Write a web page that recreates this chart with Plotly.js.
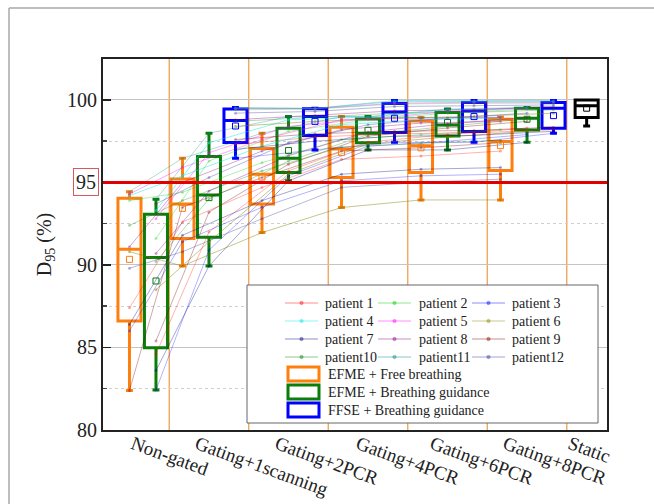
<!DOCTYPE html>
<html><head><meta charset="utf-8">
<script src="https://cdn.plot.ly/plotly-3.0.1.min.js"></script>
<style>html,body{margin:0;padding:0;background:#fff}</style>
</head><body><div id="chart" style="width:654px;height:504px"></div>
<script>
// ---------------- DATA ----------------
const categories = ['Non-gated','Gating+1scanning','Gating+2PCR','Gating+4PCR','Gating+6PCR','Gating+8PCR','Static'];
const patientNames = ['patient 1','patient 2','patient 3','patient 4','patient 5','patient 6','patient 7','patient 8','patient 9','patient10','patient11','patient12'];
const protocolNames = ['EFME + Free breathing','EFME + Breathing guidance','FFSE + Breathing guidance'];
const threshold = 95;
const yTickVals = [80, 85, 90, 95, 100];
const yTickText = ['80', '85', '90', '', '100'];

// EFME + Free breathing (categories 0..5)
const efmeFreeLower  = [82.40, 89.94, 91.96, 93.48, 93.94, 93.94];
const efmeFreeQ1     = [86.60, 91.60, 93.70, 95.30, 95.60, 95.72];
const efmeFreeMedian = [90.95, 93.70, 95.50, 97.02, 97.23, 97.48];
const efmeFreeQ3     = [94.04, 95.21, 97.05, 98.34, 98.73, 98.83];
const efmeFreeUpper  = [94.44, 96.46, 97.98, 98.99, 98.93, 98.95];
const efmeFreeMean   = [90.34, 93.43, 95.33, 96.82, 97.10, 97.23];

// EFME + Breathing guidance (categories 0..5)
const efmeGuideLower  = [82.42, 89.94, 95.10, 96.97, 96.97, 97.43];
const efmeGuideQ1     = [84.99, 91.68, 95.60, 97.40, 97.82, 98.18];
const efmeGuideMedian = [90.45, 94.24, 96.46, 97.98, 98.48, 98.89];
const efmeGuideQ3     = [93.07, 96.57, 98.28, 98.84, 99.24, 99.49];
const efmeGuideUpper  = [93.98, 97.98, 98.99, 98.99, 99.45, 99.54];
const efmeGuideMean   = [89.03, 94.08, 96.93, 98.16, 98.63, 98.83];

// FFSE + Breathing guidance (categories 1..5)
const ffseGuideLower  = [96.46, 96.97, 97.43, 97.43, 97.98];
const ffseGuideQ1     = [97.42, 97.85, 98.03, 98.08, 98.28];
const ffseGuideMedian = [98.75, 99.00, 99.27, 99.33, 99.49];
const ffseGuideQ3     = [99.45, 99.47, 99.78, 99.84, 99.84];
const ffseGuideUpper  = [99.54, 99.49, 99.96, 99.96, 99.96];
const ffseGuideMean   = [98.42, 98.70, 98.89, 98.99, 99.05];

// Static (category 6)
const staticLower = [98.42];
const staticQ1 = [98.94];
const staticMedian = [99.64];
const staticQ3 = [100.0];
const staticUpper = [100.0];
const staticMean = [99.50];

// per-patient D95 values, EFME + Free breathing (categories 0..5)
const efmeFreePatients = [
  [87.4, 92.6, 94.7, 96.4, 96.6, 96.9],
  [93.9, 94.4, 96.2, 97.6, 97.9, 98.2],
  [86.0, 91.4, 93.5, 95.1, 95.4, 95.5],
  [94.2, 95.4, 97.2, 98.5, 98.8, 98.9],
  [94.3, 95.9, 97.6, 98.8, 98.9, 98.93],
  [90.8, 89.94, 91.96, 93.48, 93.94, 93.94],
  [86.4, 91.8, 93.9, 95.5, 95.8, 95.9],
  [91.1, 95.0, 96.9, 98.2, 98.6, 98.7],
  [82.4, 93.5, 95.3, 96.9, 97.1, 97.4],
  [92.4, 93.9, 95.7, 97.14, 97.36, 97.56],
  [94.44, 96.46, 97.98, 98.99, 98.93, 98.95],
  [89.8, 90.8, 92.8, 94.7, 95.0, 95.2]
];
// per-patient D95 values, EFME + Breathing guidance (categories 0..5)
const efmeGuidePatients = [
  [84.6, 92.0, 95.7, 97.45, 97.9, 98.3],
  [91.6, 96.3, 98.1, 98.8, 99.2, 99.45],
  [82.42, 90.9, 95.4, 97.2, 97.5, 97.9],
  [93.3, 97.4, 98.8, 98.95, 99.4, 99.52],
  [92.8, 96.8, 98.4, 98.87, 99.3, 99.5],
  [88.5, 91.4, 95.5, 97.35, 97.75, 98.1],
  [83.6, 89.94, 95.1, 96.97, 96.97, 97.43],
  [90.7, 94.48, 96.62, 98.06, 98.56, 98.93],
  [85.4, 93.2, 96.1, 97.8, 98.3, 98.7],
  [90.2, 94.0, 96.3, 97.9, 98.4, 98.85],
  [93.98, 97.98, 98.99, 98.99, 99.45, 99.54],
  [93.7, 95.3, 97.4, 98.5, 98.9, 99.2]
];
// per-patient D95 values, FFSE + Breathing guidance (categories 1..5)
const ffseGuidePatients = [
  [97.3, 97.75, 97.95, 98.0, 98.2],
  [99.4, 99.45, 99.75, 99.8, 99.8],
  [96.46, 96.97, 97.43, 97.43, 97.98],
  [99.5, 99.48, 99.9, 99.92, 99.92],
  [99.48, 99.47, 99.8, 99.86, 99.86],
  [98.4, 98.7, 98.9, 99.0, 99.2],
  [97.0, 97.5, 97.8, 97.85, 98.1],
  [98.8, 99.05, 99.34, 99.41, 99.58],
  [97.6, 97.95, 98.1, 98.15, 98.35],
  [98.7, 98.95, 99.2, 99.25, 99.4],
  [99.54, 99.49, 99.96, 99.96, 99.96],
  [99.2, 99.3, 99.6, 99.65, 99.7]
];

// ---------------- POSITIONS / STYLE ----------------
const SLOT = 1/3;
function xOrange(i){ return i === 0 ? 0 : i - SLOT; }
function xGreen(i){ return i === 0 ? SLOT : i; }
function xBlue(i){ return (i + 1) + SLOT; }   // categories 1..5
const xStatic = 5.75;
const labelPos = [0.044, 0.85, 1.855, 2.874, 3.805, 4.723, 5.541];

const cOrange = '#ff7f0e', cGreen = '#0a7d0a', cBlue = '#0000ff', cBlack = '#000000';
const patientColors = [
  'rgba(255,0,0,0.30)','rgba(0,200,0,0.30)','rgba(0,0,255,0.30)','rgba(0,230,230,0.45)',
  'rgba(255,0,255,0.35)','rgba(128,128,0,0.45)','rgba(0,0,128,0.35)','rgba(128,0,128,0.35)',
  'rgba(128,0,0,0.35)','rgba(0,128,0,0.30)','rgba(0,128,128,0.30)','rgba(49,49,148,0.35)'
];
const FONT = '"Liberation Serif", "Times New Roman", serif';

const traces = [];
// patient lines
patientNames.forEach((name, p) => {
  const xs = [], ys = [];
  efmeFreePatients[p].forEach((v, i) => { xs.push(xOrange(i)); ys.push(v); });
  xs.push(null); ys.push(null);
  efmeGuidePatients[p].forEach((v, i) => { xs.push(xGreen(i)); ys.push(v); });
  xs.push(null); ys.push(null);
  ffseGuidePatients[p].forEach((v, i) => { xs.push(xBlue(i)); ys.push(v); });
  traces.push({
    type: 'scatter', mode: 'lines+markers', name: name, x: xs, y: ys,
    connectgaps: false, showlegend: false,
    line: {color: patientColors[p], width: 1},
    marker: {color: patientColors[p], size: 3},
    hoverinfo: 'skip'
  });
});

function boxTrace(xs, lo, q1, med, q3, up, color, name){
  return {
    type: 'box', name: name, x: xs, lowerfence: lo, q1: q1, median: med, q3: q3, upperfence: up,
    width: 0.29, whiskerwidth: 0.3, boxpoints: false,
    line: {color: color, width: 3}, fillcolor: 'rgba(0,0,0,0)',
    showlegend: false, hoverinfo: 'skip'
  };
}
function meanTrace(xs, ys, color){
  return {type: 'scatter', mode: 'markers', x: xs, y: ys, showlegend: false, hoverinfo: 'skip',
    marker: {symbol: 'square-open', size: 6, color: color, line: {width: 1, color: color}}};
}
const xo = efmeFreeMedian.map((_, i) => xOrange(i));
const xg = efmeGuideMedian.map((_, i) => xGreen(i));
const xb = ffseGuideMedian.map((_, i) => xBlue(i));
traces.push(boxTrace(xo, efmeFreeLower, efmeFreeQ1, efmeFreeMedian, efmeFreeQ3, efmeFreeUpper, cOrange, protocolNames[0]));
traces.push(boxTrace(xg, efmeGuideLower, efmeGuideQ1, efmeGuideMedian, efmeGuideQ3, efmeGuideUpper, cGreen, protocolNames[1]));
traces.push(boxTrace(xb, ffseGuideLower, ffseGuideQ1, ffseGuideMedian, ffseGuideQ3, ffseGuideUpper, cBlue, protocolNames[2]));
traces.push(boxTrace([xStatic], staticLower, staticQ1, staticMedian, staticQ3, staticUpper, cBlack, categories[6]));
traces.push(meanTrace(xo, efmeFreeMean, cOrange));
traces.push(meanTrace(xg, efmeGuideMean, cGreen));
traces.push(meanTrace(xb, ffseGuideMean, cBlue));
traces.push(meanTrace([xStatic], staticMean, cBlack));

// ---------------- LAYOUT ----------------
const L = 103, R = 47, T = 59, B = 74, W = 654, H = 504;
const pw = W - L - R, ph = H - T - B;
const px = v => (v - L) / pw;           // pixel -> paper x
const py = v => (H - B - v) / ph;       // pixel -> paper y

const shapes = [];
const annotations = [];
for (let g = 0; g < 6; g++) {
  shapes.push({type: 'line', xref: 'x', yref: 'paper', x0: g + 0.5, x1: g + 0.5, y0: 0, y1: 1,
    line: {color: '#f0a050', width: 1.3}, layer: 'below'});
}
shapes.push({type: 'line', xref: 'paper', yref: 'y', x0: 0, x1: 1, y0: threshold, y1: threshold,
  line: {color: '#e00000', width: 3}, layer: 'above'});
// outer figure frame
shapes.push({type: 'line', xref: 'paper', yref: 'paper', x0: px(9), x1: px(654), y0: py(8), y1: py(8), line: {color: '#a8a8a8', width: 1.5}});
shapes.push({type: 'line', xref: 'paper', yref: 'paper', x0: px(9), x1: px(9), y0: py(8), y1: py(504), line: {color: '#a8a8a8', width: 1.5}});
// legend frame
shapes.push({type: 'rect', xref: 'paper', yref: 'paper', x0: px(247), x1: px(598), y0: py(423), y1: py(285),
  line: {color: '#666', width: 1}, fillcolor: '#ffffff', layer: 'above'});
// patient legend entries (3 columns)
const colLine = [285, 378, 472], colText = [323, 417, 510], rowY = [303, 321, 339, 357];
patientNames.forEach((n, p) => {
  const c = p % 3, r = Math.floor(p / 3);
  const solid = patientColors[p].replace(/[\d.]+\)$/, '0.45)');
  shapes.push({type: 'line', xref: 'paper', yref: 'paper', x0: px(colLine[c]), x1: px(colLine[c] + 33),
    y0: py(rowY[r]), y1: py(rowY[r]), line: {color: solid, width: 1.2}, layer: 'above'});
  shapes.push({type: 'circle', xref: 'paper', yref: 'paper', xsizemode: 'pixel', ysizemode: 'pixel',
    xanchor: px(colLine[c] + 16.5), yanchor: py(rowY[r]), x0: -1.8, x1: 1.8, y0: -1.8, y1: 1.8,
    line: {color: solid, width: 0.5}, fillcolor: solid, layer: 'above'});
  annotations.push({xref: 'paper', yref: 'paper', x: px(colText[c]), y: py(rowY[r]),
    xanchor: 'left', yanchor: 'middle', showarrow: false, text: n,
    font: {family: FONT, size: 14, color: '#222'}});
});
// protocol legend swatches
const swatchColors = [cOrange, cGreen, cBlue];
const swatchTop = [367, 385, 403];
protocolNames.forEach((n, k) => {
  shapes.push({type: 'rect', xref: 'paper', yref: 'paper', x0: px(288), x1: px(319),
    y0: py(swatchTop[k] + 14), y1: py(swatchTop[k]),
    line: {color: swatchColors[k], width: 3}, fillcolor: 'rgba(0,0,0,0)', layer: 'above'});
  annotations.push({xref: 'paper', yref: 'paper', x: px(326), y: py(swatchTop[k] + 7),
    xanchor: 'left', yanchor: 'middle', showarrow: false, text: n,
    font: {family: FONT, size: 14, color: '#222'}});
});
annotations.push({xref: 'paper', yref: 'y', x: 0, y: threshold, xanchor: 'right', yanchor: 'middle',
  xshift: -4, showarrow: false, text: String(threshold),
  font: {family: FONT, size: 20, color: '#222'}, bordercolor: '#d65a5a', borderwidth: 1, borderpad: 2});

const layout = {
  width: W, height: H,
  margin: {l: L, r: R, t: T, b: B},
  paper_bgcolor: '#fff', plot_bgcolor: '#fff',
  font: {family: FONT, color: '#222'},
  showlegend: false,
  xaxis: {
    range: [-0.333, 6.006], showgrid: false, zeroline: false,
    showline: true, mirror: true, linecolor: '#222', linewidth: 2,
    tickmode: 'array', tickvals: labelPos, ticktext: categories, tickangle: 20, ticks: '',
    ticklabelstandoff: -6,
    tickfont: {family: FONT, size: 19, color: '#222'}
  },
  yaxis: {
    range: [80, 102.48], zeroline: false,
    showline: true, mirror: true, linecolor: '#222', linewidth: 2,
    tickmode: 'array', tickvals: yTickVals, ticktext: yTickText,
    ticks: 'inside', ticklen: 8, tickwidth: 1.5, tickcolor: '#222',
    showgrid: true, gridcolor: '#c4c4c4', gridwidth: 1,
    minor: {dtick: 2.5, tick0: 80, ticks: 'inside', ticklen: 4, tickcolor: '#444',
            showgrid: true, gridcolor: '#cfcfcf', griddash: 'dot', gridwidth: 1},
    tickfont: {family: FONT, size: 20, color: '#222'},
    title: {text: 'D<sub>95</sub> (%)', font: {family: FONT, size: 20, color: '#222'}, standoff: 10}
  },
  shapes: shapes,
  annotations: annotations
};

Plotly.newPlot('chart', traces, layout, {displayModeBar: false, staticPlot: true});
</script>
</body></html>
